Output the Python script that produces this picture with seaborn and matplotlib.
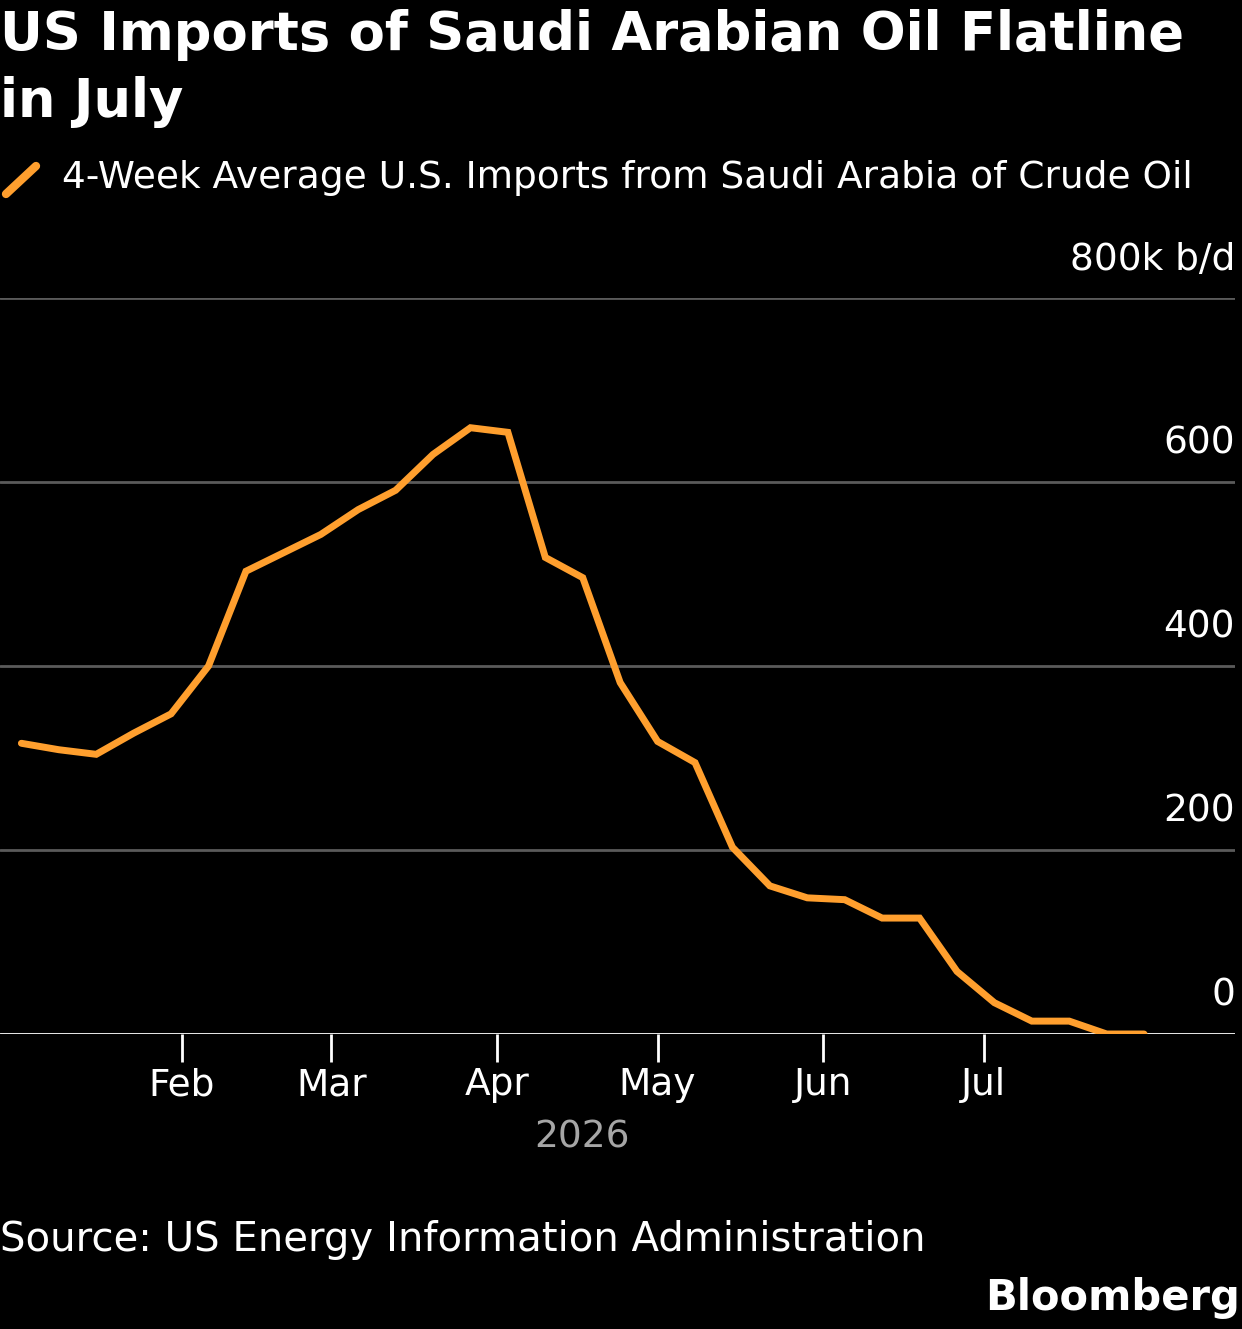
import pandas as pd
import numpy as np
import matplotlib.pyplot as plt
import matplotlib.dates as mdates
from matplotlib.lines import Line2D
import seaborn as sns

# weekly 4-week average imports, k b/d
weeks = pd.date_range("2026-01-02", periods=31, freq="7D")
imports = [316, 309, 304, 327, 348, 400, 503, 523, 543, 570, 591, 630, 659, 654,
           518, 496, 382, 318, 295, 203, 161, 148, 146, 126, 126, 68, 34, 14, 14, 0, 0]
yticks = [0, 200, 400, 600, 800]
ytick_labels = ["0", "200", "400", "600", "800k b/d"]

df = pd.DataFrame({"week": weeks, "imports": imports})

sns.set_theme(style="dark")
plt.rcParams["font.family"] = ["DejaVu Sans"]
W, H = 1242, 1329
fig = plt.figure(figsize=(W / 100, H / 100), dpi=100, facecolor="black")
ax = fig.add_axes([0, 1 - 1034 / H, 1235 / W, (1034 - 298) / H], facecolor="black")

for v in yticks[1:]:
    ax.axhline(v, color="#5a5a5a", lw=2, zorder=1)
ax.axhline(0, color="white", lw=2, zorder=1)

sns.lineplot(data=df, x="week", y="imports", color="#ff9f2e", lw=5, ax=ax, zorder=3,
             solid_joinstyle="miter")

ax.set_xlim(pd.Timestamp("2025-12-29"), pd.Timestamp("2026-08-17"))
ax.set_ylim(0, 800)
ax.set_yticks([])
ax.set_xlabel("")
ax.set_ylabel("")
for s in ax.spines.values():
    s.set_visible(False)
for v, lab in zip(yticks, ytick_labels):
    ax.text(1.0, v + 22, lab, transform=ax.get_yaxis_transform(), ha="right", va="bottom",
            color="white", fontsize=27)

ax.xaxis.set_major_locator(mdates.MonthLocator(bymonth=range(2, 8)))
ax.xaxis.set_major_formatter(mdates.DateFormatter("%b"))
ax.tick_params(axis="x", colors="white", labelsize=27, length=20, width=2, pad=4,
               direction="out", bottom=True)

fig.text(582 / W, 1 - 1138 / H, "2026", color="#a6a6a6", fontsize=27, ha="center", va="center")
fig.text(0, 1 - 35 / H, "US Imports of Saudi Arabian Oil Flatline", color="white",
         fontsize=38, fontweight="bold", va="center")
fig.text(0, 1 - 102 / H, "in July", color="white", fontsize=38, fontweight="bold", va="center")
fig.lines.append(Line2D([6 / W, 36 / W], [1 - 194 / H, 1 - 166 / H], color="#ff9f2e",
                        lw=6, transform=fig.transFigure))
fig.text(62 / W, 1 - 178 / H, "4-Week Average U.S. Imports from Saudi Arabia of Crude Oil",
         color="white", fontsize=27, va="center")
fig.text(0, 1 - 1240 / H, "Source: US Energy Information Administration", color="white",
         fontsize=29, va="center")
fig.text(1240 / W, 1 - 1298 / H, "Bloomberg", color="white", fontsize=30,
         fontweight="bold", ha="right", va="center")

fig.savefig("out.png", dpi=100, facecolor="black")
